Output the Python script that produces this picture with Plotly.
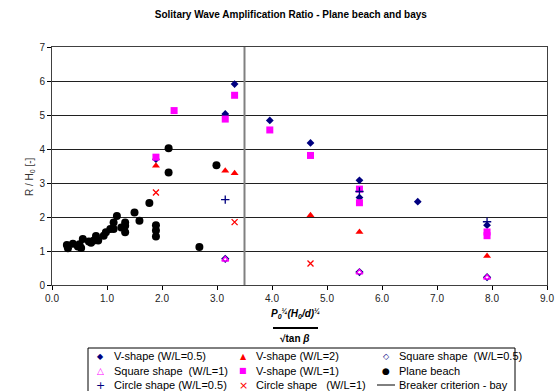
import plotly.graph_objects as go

# ---------------- data ----------------
plane_x = [0.27, 0.29, 0.38, 0.47, 0.50, 0.53, 0.56, 0.67, 0.71, 0.76, 0.80, 0.84, 0.94, 0.98,
           1.06, 1.12, 1.12, 1.18, 1.26, 1.33, 1.33, 1.33, 1.50, 1.59, 1.77, 1.89, 1.89, 1.89,
           2.12, 2.12, 2.68, 2.99]
plane_y = [1.18, 1.08, 1.21, 1.13, 1.20, 1.09, 1.35, 1.28, 1.24, 1.31, 1.44, 1.31, 1.45, 1.55,
           1.65, 1.65, 1.84, 2.03, 1.69, 1.84, 1.74, 1.55, 2.13, 1.89, 2.41, 1.76, 1.60, 1.43,
           4.02, 3.31, 1.12, 3.52]

v05_x = [1.89, 3.15, 3.32, 3.96, 4.70, 5.59, 5.59, 6.65, 7.91]
v05_y = [3.70, 5.03, 5.91, 4.84, 4.18, 3.08, 2.57, 2.45, 1.76]

v1_x = [1.89, 2.22, 3.15, 3.32, 3.96, 4.70, 5.59, 5.59, 7.91, 7.91]
v1_y = [3.76, 5.13, 4.88, 5.58, 4.56, 3.81, 2.82, 2.42, 1.56, 1.45]

v2_x = [1.89, 3.15, 3.32, 4.70, 5.59, 7.91]
v2_y = [3.51, 3.36, 3.29, 2.05, 1.56, 0.85]

sq05_x = [3.15, 5.59, 7.91]
sq05_y = [0.77, 0.38, 0.23]

sq1_x = [3.15, 5.59, 7.91]
sq1_y = [0.75, 0.37, 0.22]

c05_x = [3.15, 5.59, 7.91]
c05_y = [2.51, 2.75, 1.86]

c1_x = [1.89, 3.32, 4.70]
c1_y = [2.72, 1.85, 0.63]

breaker_x = [3.5, 3.5]
breaker_y = [0, 7]

x_ticks = [0, 1, 2, 3, 4, 5, 6, 7, 8, 9]
y_ticks = [0, 1, 2, 3, 4, 5, 6, 7]

NAVY = "#000080"
RED = "#FF0000"
MAG = "#FF00FF"
FONT = "Liberation Sans, Arial, sans-serif"
SYMFONT = "DejaVu Sans, sans-serif"

# legend entries in reading order (3 columns x 3 rows): name, glyph, colour, glyph size
legend_entries = [
    ("V-shape (W/L=0.5)", "◆", NAVY, 8),
    ("V-shape (W/L=2)", "▲", RED, 8),
    ("Square shape  (W/L=0.5)", "◇", NAVY, 8),
    ("Square shape  (W/L=1)", "△", MAG, 9),
    ("V-shape (W/L=1)", "■", MAG, 8),
    ("Plane beach", "●", "black", 9),
    ("Circle shape (W/L=0.5)", "+", NAVY, 11),
    ("Circle shape   (W/L=1)", "×", RED, 11),
    ("Breaker criterion - bay", None, "black", 0),
]

fig = go.Figure()

fig.add_trace(go.Scatter(
    x=breaker_x, y=breaker_y, mode="lines", name="Breaker criterion - bay",
    line=dict(color="#808080", width=2),
))

def sc(x, y, name, symbol, color, size, lw=0):
    fig.add_trace(go.Scatter(
        x=x, y=y, mode="markers", name=name,
        marker=dict(symbol=symbol, color=color, size=size,
                    line=dict(color=color, width=lw)),
    ))

sc(v05_x, v05_y, "V-shape (W/L=0.5)", "diamond", NAVY, 6)
sc(v2_x, v2_y, "V-shape (W/L=2)", "triangle-up", RED, 7)
sc(sq05_x, sq05_y, "Square shape  (W/L=0.5)", "diamond-open", NAVY, 5, 1.3)
sc(sq1_x, sq1_y, "Square shape  (W/L=1)", "triangle-up-open", MAG, 6, 1.3)
sc(v1_x, v1_y, "V-shape (W/L=1)", "square", MAG, 7)
sc(plane_x, plane_y, "Plane beach", "circle", "black", 8)
sc(c05_x, c05_y, "Circle shape (W/L=0.5)", "cross-thin", NAVY, 6, 1.3)
sc(c1_x, c1_y, "Circle shape   (W/L=1)", "x-thin", RED, 6, 1.3)

# plot-area geometry in pixels (for placing the text legend / axis titles)
L, R, T, B = 52, 9, 47, 106
W, H = 556, 391
PW, PH = W - L - R, H - T - B


def px(xp):
    return (xp - L) / PW


def py(yp):
    return (H - B - yp) / PH


fig.update_layout(
    width=W, height=H,
    margin=dict(l=L, r=R, t=T, b=B, autoexpand=False),
    paper_bgcolor="white", plot_bgcolor="white",
    font=dict(family=FONT, size=10, color="black"),
    title=dict(text="<b>Solitary Wave Amplification Ratio - Plane beach and bays</b>",
               x=0.523, xanchor="center", y=0.962, yanchor="middle",
               font=dict(size=10, family=FONT, color="black")),
    showlegend=False,
    xaxis=dict(range=[0, 9], tickvals=x_ticks, ticktext=[f"{v:.1f}" for v in x_ticks],
               showgrid=False, zeroline=False, showline=True, linecolor="#404040",
               linewidth=1, mirror=True, ticks="outside", ticklen=4, tickcolor="black",
               tickfont=dict(size=10, color="#222"), automargin=False),
    yaxis=dict(range=[0, 7], tickvals=y_ticks, showgrid=True, gridcolor="#202020",
               gridwidth=1, zeroline=False, showline=True, linecolor="#404040",
               linewidth=1, mirror=True, ticks="outside", ticklen=4, tickcolor="black",
               tickfont=dict(size=10, color="#222"), automargin=False),
)

# y-axis title
fig.add_annotation(xref="paper", yref="paper", x=px(30), y=py(177), textangle=-90,
                   text="R / H<sub>0</sub> [-]", showarrow=False,
                   font=dict(size=10, family=FONT, color="#333"),
                   xanchor="center", yanchor="middle")

# x-axis title: fraction formula built from text and a line
fig.add_annotation(xref="paper", yref="paper", x=px(295), y=py(313),
                   text="<b><i>P<sub>0</sub><sup>¼</sup>(H<sub>0</sub>/d)<sup>¼</sup></i></b>",
                   showarrow=False, font=dict(size=10, family=FONT, color="black"),
                   xanchor="center", yanchor="middle")
fig.add_shape(type="line", xref="paper", yref="paper", x0=px(273), x1=px(318),
              y0=py(328), y1=py(328), line=dict(color="black", width=2))
fig.add_annotation(xref="paper", yref="paper", x=px(295), y=py(338),
                   text="<b>√tan <i>β</i></b>",
                   showarrow=False, font=dict(size=10, family=FONT, color="black"),
                   xanchor="center", yanchor="middle")

# legend box and entries (text legend, Excel style)
fig.add_shape(type="rect", xref="paper", yref="paper", x0=px(88), x1=px(515),
              y0=py(348), y1=py(400), line=dict(color="black", width=1),
              fillcolor="white", layer="above")
col_sym = [100, 243, 386]
col_txt = [112, 254, 397]
row_y = [356, 370.5, 385]
for i, (name, glyph, color, gsize) in enumerate(legend_entries):
    r, c = divmod(i, 3)
    if glyph is None:
        fig.add_shape(type="line", xref="paper", yref="paper", x0=px(377), x1=px(395),
                      y0=py(row_y[r]), y1=py(row_y[r]), line=dict(color="black", width=1),
                      layer="above")
    else:
        fig.add_annotation(xref="paper", yref="paper", x=px(col_sym[c]), y=py(row_y[r]),
                           text=glyph, showarrow=False,
                           font=dict(size=gsize, family=SYMFONT, color=color),
                           xanchor="center", yanchor="middle")
    fig.add_annotation(xref="paper", yref="paper", x=px(col_txt[c]), y=py(row_y[r]),
                       text=name, showarrow=False,
                       font=dict(size=11, family=FONT, color="black"),
                       xanchor="left", yanchor="middle")

fig.write_html("out.html", post_script="document.body.style.margin='0';",
               config={"displayModeBar": False})
